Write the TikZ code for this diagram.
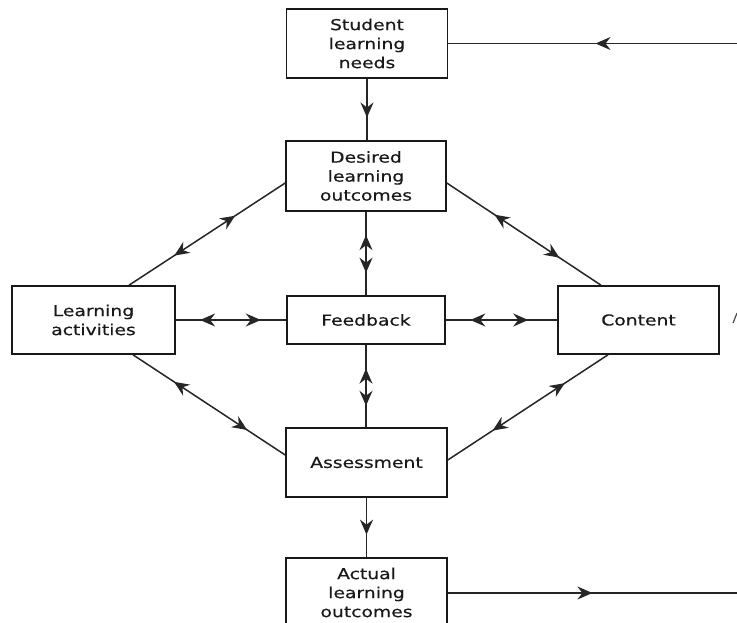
\documentclass[tikz,border=0pt]{standalone}
\usepackage{fontspec}
\newfontfamily\diafont[FakeStretch=1.25,FakeBold=0.4]{DejaVu Sans}
\usetikzlibrary{arrows.meta,decorations.markings}
\tikzset{
  box/.style={draw=black!90, line width=1.6pt, fill=white, inner sep=0pt,
    minimum width=161pt, minimum height=69pt, align=center,
    font=\diafont\fontsize{15pt}{19pt}\selectfont, text=black!90},
  conn/.style={draw=black!85, line width=1.5pt},
  tipfwd/.style={postaction={decorate, decoration={markings,
    mark=at position #1 with {\arrow{Stealth[length=15pt,width=13pt,inset=5pt]}}}}},
  tipback/.style={postaction={decorate, decoration={markings,
    mark=at position #1 with {\arrowreversed{Stealth[length=15pt,width=13pt,inset=5pt]}}}}},
}
\begin{document}
\begin{tikzpicture}[x=1pt,y=-1pt]
\clip (0,0) rectangle (737,622);
\fill[white] (0,0) rectangle (737,622);

\node[box] (sln) at (367,43.5) {Student\\learning\\needs};
\node[box, minimum width=160pt, minimum height=70pt] (dlo) at (366,176) {Desired\\learning\\outcomes};
\node[box, minimum width=158pt, minimum height=48pt] (fb) at (366,320) {Feedback};
\node[box, minimum width=163pt, minimum height=68pt] (la) at (93.5,320) {Learning\\activities};
\node[box, minimum width=161pt, minimum height=68pt] (ct) at (638.5,320) {Content};
\node[box] (as) at (366.5,462.5) {Assessment};
\node[box] (alo) at (366.5,592.5) {Actual\\learning\\outcomes};

\coordinate (topend) at (737,43.5);
\coordinate (botend) at (737,593);

% vertical spine
\path[conn, tipfwd=0.63] (sln.south) -- (sln.south |- dlo.north);
\path[conn, tipback=0.28, tipfwd=0.73] (dlo.south) -- (dlo.south |- fb.north);
\path[conn, tipback=0.29, tipfwd=0.74] (fb.south) -- (fb.south |- as.north);
\path[conn, tipfwd=0.62] (as.south) -- (as.south |- alo.north);

% horizontals
\path[conn, tipback=0.22, tipfwd=0.77] (la.east) -- (fb.west);
\path[conn, tipback=0.22, tipfwd=0.74] (fb.east) -- (ct.west);

% diagonals
\path[conn, tipback=0.32, tipfwd=0.71] ([yshift=-7pt]dlo.west) -- ([xshift=35.5pt]la.north);
\path[conn, tipback=0.31, tipfwd=0.73] ([yshift=-7pt]dlo.east) -- ([xshift=-37.5pt]ct.north);
\path[conn, tipback=0.27, tipfwd=0.75] ([xshift=39.5pt]la.south) -- ([yshift=7.5pt]as.west);
\path[conn, tipback=0.27, tipfwd=0.72] ([xshift=-30.5pt]ct.south) -- ([yshift=2.5pt]as.east);

% outer loop ends
\path[conn, tipback=0.51] (sln.east) -- (topend);
\path[conn, tipfwd=0.50] (alo.east |- botend) -- (botend);

% clipped fragment at right edge
\draw[black!70, line width=1.2pt] (733,323) -- (737,313);
\end{tikzpicture}
\end{document}
